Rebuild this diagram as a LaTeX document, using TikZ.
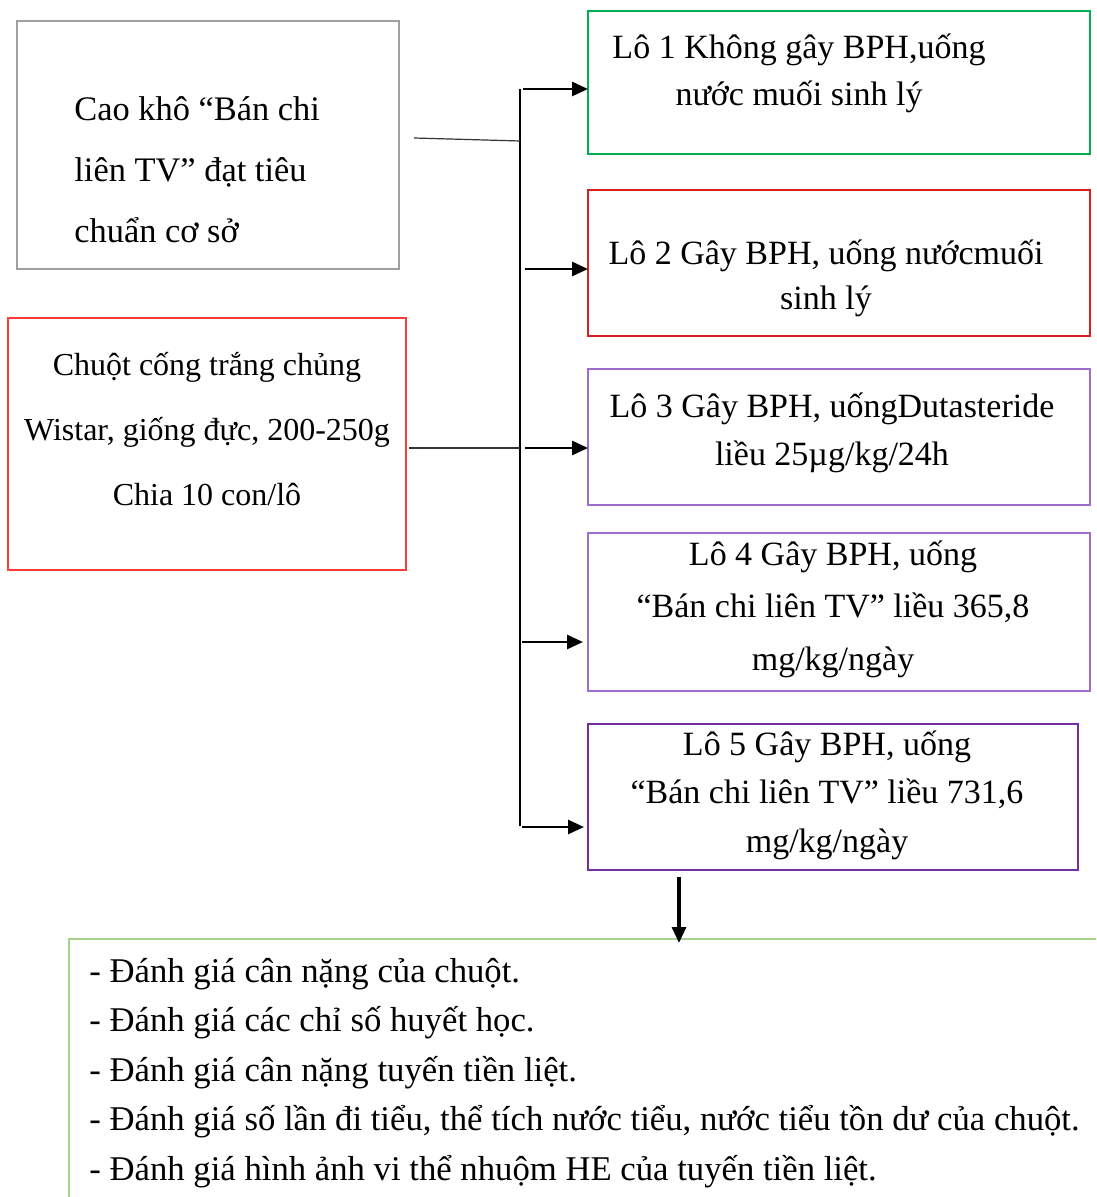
\documentclass[tikz,border=0pt]{standalone}
\usepackage{fontspec}
\setmainfont{Liberation Serif}
\usepackage{tikz}
\usetikzlibrary{arrows.meta,positioning,calc}
\definecolor{grpgray}{RGB}{160,160,160}
\definecolor{grpred}{RGB}{255,60,60}
\definecolor{lored}{RGB}{222,30,30}
\definecolor{logreen}{RGB}{0,176,80}
\definecolor{lopurple}{RGB}{155,110,205}
\definecolor{lodpurple}{RGB}{112,48,160}
\definecolor{evgreen}{RGB}{169,209,142}
\tikzset{
  sd/box/.style={draw=#1, line width=0.7pt, rectangle, anchor=north west, inner sep=0pt, outer sep=0pt},
  sd/txt/.style={font=\fontsize{17}{#1}\selectfont, align=center, anchor=base, inner sep=0pt},
  sd/ltxt/.style={font=\fontsize{17.2}{#1}\selectfont, align=left, anchor=base west, inner sep=0pt},
  sd/line/.style={line width=0.6pt, black!80},
  sd/bus/.style={line width=0.8pt},
  sd/arrow/.style={-{Triangle[length=8pt,width=7pt]}, line width=1.4pt}
}
\begin{document}
\begin{tikzpicture}[x=0.5pt, y=-0.5pt]
  \useasboundingbox (0,0) rectangle (1096,1197);
  \clip (0,0) rectangle (1096,1197);

  % Material and animals (text nodes sit on their last baseline)
  \node[sd/box=grpgray, minimum width=191pt, minimum height=124pt] (cao) at (17,21) {};
  \node[sd/ltxt=30.5pt] (caotxt) at (74,243) {Cao khô “Bán chi\\liên TV” đạt tiêu\\chuẩn cơ sở};
  \node[sd/box=grpred, minimum width=199pt, minimum height=126pt] (chuot) at (8,318) {};
  \node[sd/txt=32.5pt, font=\fontsize{16}{32.5pt}\selectfont] (chuottxt) at (207,505) {Chuột cống trắng chủng\\Wistar, giống đực, 200-250g\\Chia 10 con/lô};

  % Groups
  \node[sd/box=logreen, minimum width=251pt, minimum height=71.5pt] (lo1) at (588,11) {};
  \node[sd/txt=23.5pt] (lo1txt) at (799,106) {Lô 1 Không gây BPH,uống\\nước muối sinh lý};
  \node[sd/box=lored, minimum width=251pt, minimum height=73pt] (lo2) at (588,190) {};
  \node[sd/txt=22.5pt] (lo2txt) at (826,310) {Lô 2 Gây BPH, uống nướcmuối\\sinh lý};
  \node[sd/box=lopurple, minimum width=251pt, minimum height=68pt] (lo3) at (588,369) {};
  \node[sd/txt=24pt] (lo3txt) at (832,465) {Lô 3 Gây BPH, uốngDutasteride\\liều 25µg/kg/24h};
  \node[sd/box=lopurple, minimum width=251pt, minimum height=79pt] (lo4) at (588,533) {};
  \node[sd/txt=26.25pt] (lo4txt) at (833,670) {Lô 4 Gây BPH, uống\\“Bán chi liên TV” liều 365,8\\mg/kg/ngày};
  \node[sd/box=lodpurple, minimum width=245pt, minimum height=73pt] (lo5) at (588,724) {};
  \node[sd/txt=24.25pt] (lo5txt) at (827,852) {Lô 5 Gây BPH, uống\\“Bán chi liên TV” liều 731,6\\mg/kg/ngày};

  % Evaluation
  \node[sd/box=evgreen, minimum width=525pt, minimum height=150pt] (eval) at (69,939) {};
  \node[sd/ltxt=24.75pt, font=\fontsize{17.35}{24.75pt}\selectfont] (evaltxt) at (89,1180) {- Đánh giá cân nặng của chuột.\\- Đánh giá các chỉ số huyết học.\\- Đánh giá cân nặng tuyến tiền liệt.\\- Đánh giá số lần đi tiểu, thể tích nước tiểu, nước tiểu tồn dư của chuột.\\- Đánh giá hình ảnh vi thể nhuộm HE của tuyến tiền liệt.};

  % Bus and branches
  \coordinate (bustop) at (520,89);
  \coordinate (busbot) at (520,826);
  \coordinate (joina) at (520,141);
  \coordinate (joinb) at (520,448);
  \draw[sd/bus] (bustop) -- (busbot);
  \draw[sd/line] ($(cao.east)+(15,-7)$) -- (joina);
  \draw[sd/line] ($(chuot.east)+(3,4)$) -- (joinb);

  \coordinate (j1) at (523,89);
  \coordinate (j2) at (525,269);
  \coordinate (j3) at (525,448);
  \coordinate (j4) at (522,642);
  \coordinate (j5) at (522,827);
  \draw[sd/arrow] (j1) -- (j1 -| lo1.west);
  \draw[sd/arrow] (j2) -- (j2 -| lo2.west);
  \draw[sd/arrow] (j3) -- (j3 -| lo3.west);
  \draw[sd/arrow, shorten >=2.5pt] (j4) -- (j4 -| lo4.west);
  \draw[sd/arrow, shorten >=2pt] (j5) -- (j5 -| lo5.west);

  \coordinate (down) at (679,877);
  \draw[sd/arrow, line width=1.6pt, shorten >=-2pt] (down) -- (down |- eval.north);
\end{tikzpicture}
\end{document}
